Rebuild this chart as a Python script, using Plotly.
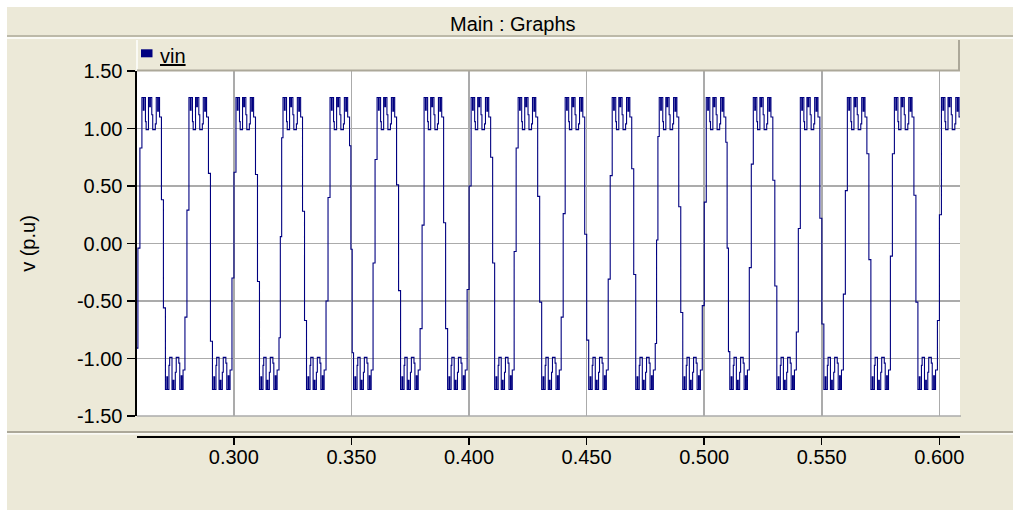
import plotly.graph_objects as go

W, H = 1013, 510

# ---------------- data ----------------
series_name = "vin"
t_start = 0.2586          # left edge of the time axis (s)
t_end = 0.6088            # right edge of the time axis (s)
period = 0.02             # 50 Hz
first_rise = 0.2592       # start of the first negative->positive transition
initial_value = -0.91     # first sample at the left edge

# intermediate sample values seen on each rising transition (one list per cycle)
rise_steps = [
    [-0.04, 0.83], [-0.64, 0.29], [-0.30, 0.62], [-0.82, 0.06, 0.92],
    [-0.50, 0.40], [-0.17, 0.73], [-0.74, 0.16], [-0.40, 0.50],
    [-0.07, 0.83], [-0.64, 0.26], [-0.31, 0.59], [-0.87, 0.03, 0.93],
    [-0.54, 0.36], [-0.21, 0.69], [-0.77, 0.13], [-0.44, 0.46],
    [-0.11, 0.78], [-0.67, 0.25],
]
# intermediate sample values seen on each falling transition (one list per cycle)
fall_steps = [
    [0.38, -0.56], [0.61, -0.85], [0.60, -0.33], [0.28, -0.67],
    [0.85, -0.05, -0.95], [0.51, -0.41], [0.18, -0.74], [0.75, -0.17],
    [0.41, -0.51], [0.08, -0.84], [0.65, -0.27], [0.32, -0.60],
    [0.88, -0.04, -0.94], [0.55, -0.37], [0.22, -0.70], [0.78, -0.14],
    [0.42, -0.51], [0.12, -0.80],
]
# PWM pattern on the flat top of each half cycle (ms from the half start, |v|)
top_ms = [1.7, 2.3, 2.6, 3.2, 3.5, 4.5, 5.0, 5.3, 5.9, 6.3, 7.4, 7.8, 8.4, 8.7, 9.2]
top_mag = [1.27, 1.16, 1.27, 1.06, 0.99, 1.27, 1.19, 1.27, 1.12, 0.99, 1.04, 1.27, 1.15, 1.27, 1.10]

x_tick_vals = [0.30, 0.35, 0.40, 0.45, 0.50, 0.55, 0.60]
x_tick_text = ["0.300", "0.350", "0.400", "0.450", "0.500", "0.550", "0.600"]
y_tick_vals = [1.5, 1.0, 0.5, 0.0, -0.5, -1.0, -1.5]
y_tick_text = ["1.50", "1.00", "0.50", "0.00", "-0.50", "-1.00", "-1.50"]

# ---------------- build the sample-and-hold series ----------------
t, v = [t_start], [initial_value]


def add_half(start, steps, sign):
    n = len(steps)
    dt = 0.00085 if n <= 2 else 0.0017 / n
    for i, s in enumerate(steps):
        t.append(start + i * dt)
        v.append(s)
    top_start = start + n * dt
    pts = [(start + tm * 1e-3, sign * mg) for tm, mg in zip(top_ms, top_mag)]
    active = sign * top_mag[0]
    for tt, vv in pts:
        if tt <= top_start:
            active = vv
    t.append(top_start)
    v.append(active)
    for tt, vv in pts:
        if tt > top_start:
            t.append(tt)
            v.append(vv)


for k in range(len(rise_steps)):
    r = first_rise + k * period
    add_half(r, rise_steps[k], 1)
    add_half(r + period / 2, fall_steps[k], -1)

# ---------------- figure ----------------
FONT = "Liberation Sans, Arial, sans-serif"
FS = 20
BEIGE = "#ECE9D8"
EDGE = "#ACA899"
GRID = "#ABABAB"


def px(x):
    """window pixel x -> paper fraction"""
    return x / W


def py(y):
    """window pixel y -> paper fraction"""
    return 1 - y / H


fig = go.Figure()
fig.add_trace(go.Scatter(x=t, y=v, mode="lines", name=series_name,
                         line=dict(color="#000080", width=1.1, shape="hv"),
                         showlegend=False, hoverinfo="skip"))
# helper trace so the detached time axis is drawn
fig.add_trace(go.Scatter(x=[], y=[], xaxis="x2", yaxis="y", showlegend=False))

fig.update_layout(
    width=W, height=H,
    margin=dict(l=0, r=0, t=0, b=0),
    paper_bgcolor=BEIGE, plot_bgcolor="white",
    font=dict(family=FONT, size=FS, color="black"),
    showlegend=False,
    hovermode=False,
    xaxis=dict(domain=[px(136.5), px(960)], range=[t_start, t_end],
               tickvals=x_tick_vals, showticklabels=False, ticks="",
               showgrid=True, gridcolor=GRID, gridwidth=1.6,
               zeroline=False, showline=False, automargin=False),
    xaxis2=dict(overlaying="x", anchor="free", position=py(436), side="bottom",
                range=[t_start, t_end], tickvals=x_tick_vals, ticktext=x_tick_text,
                ticks="outside", ticklen=7, tickwidth=1.5, tickcolor="black",
                ticklabelstandoff=-5,
                showline=True, linecolor="black", linewidth=1.5,
                showgrid=False, zeroline=False, automargin=False,
                tickfont=dict(family=FONT, size=FS, color="black")),
    yaxis=dict(domain=[py(416), py(71)], range=[-1.5, 1.5],
               tickvals=y_tick_vals, ticktext=y_tick_text,
               ticks="outside", ticklen=8, tickwidth=1.5, tickcolor="black",
               showline=True, linecolor="black", linewidth=2,
               showgrid=True, gridcolor=GRID, gridwidth=1.6,
               zeroline=False, automargin=False,
               tickfont=dict(family=FONT, size=FS, color="black"),
               title=dict(text="v (p.u)", standoff=36,
                          font=dict(family=FONT, size=FS, color="black"))),
)

shapes = [
    # white window edges
    dict(type="rect", xref="paper", yref="paper", x0=0, x1=1, y0=py(7), y1=1,
         fillcolor="white", line=dict(width=0), layer="below"),
    dict(type="rect", xref="paper", yref="paper", x0=0, x1=px(7), y0=0, y1=1,
         fillcolor="white", line=dict(width=0), layer="below"),
    # title bar separator
    dict(type="line", xref="paper", yref="paper", x0=px(7), x1=1, y0=py(36), y1=py(36),
         line=dict(color=EDGE, width=1.5)),
    dict(type="line", xref="paper", yref="paper", x0=px(7), x1=1, y0=py(38), y1=py(38),
         line=dict(color="white", width=1.5)),
    # legend bar borders
    dict(type="line", xref="paper", yref="paper", x0=px(137), x1=px(137), y0=py(71), y1=py(40),
         line=dict(color="white", width=1.5)),
    dict(type="line", xref="paper", yref="paper", x0=px(959), x1=px(959), y0=py(71), y1=py(40),
         line=dict(color=EDGE, width=2)),
    dict(type="line", xref="paper", yref="paper", x0=px(137), x1=px(960), y0=py(70.5), y1=py(70.5),
         line=dict(color=EDGE, width=2)),
    # legend swatch
    dict(type="rect", xref="paper", yref="paper", x0=px(141), x1=px(152.5),
         y0=py(57.3), y1=py(49.3), fillcolor="#000080", line=dict(width=0)),
    # plot bottom border
    dict(type="line", xref="paper", yref="paper", x0=px(137), x1=px(961), y0=py(416), y1=py(416),
         line=dict(color=GRID, width=1.5)),
    # lower separator
    dict(type="line", xref="paper", yref="paper", x0=px(7), x1=1, y0=py(432), y1=py(432),
         line=dict(color=EDGE, width=2)),
    dict(type="line", xref="paper", yref="paper", x0=px(7), x1=1, y0=py(433.8), y1=py(433.8),
         line=dict(color="white", width=1.2)),
]
fig.update_layout(shapes=shapes)

fig.add_annotation(text="Main : Graphs", xref="paper", yref="paper",
                   x=px(513), y=py(23.5), xanchor="center", yanchor="middle",
                   showarrow=False, font=dict(family=FONT, size=FS, color="black"))
fig.add_annotation(text="<u>" + series_name + "</u>", xref="paper", yref="paper",
                   x=px(158), y=py(56), xanchor="left", yanchor="middle",
                   showarrow=False, font=dict(family=FONT, size=FS, color="black"))

# remove the browser's default page margin so the 1013x510 figure fills the window
fig.write_html(
    "out.html",
    config={"displayModeBar": False, "staticPlot": True},
    post_script=("document.body.style.margin='0';"
                 "document.body.style.overflow='hidden';"
                 "document.documentElement.style.overflow='hidden';"),
)
